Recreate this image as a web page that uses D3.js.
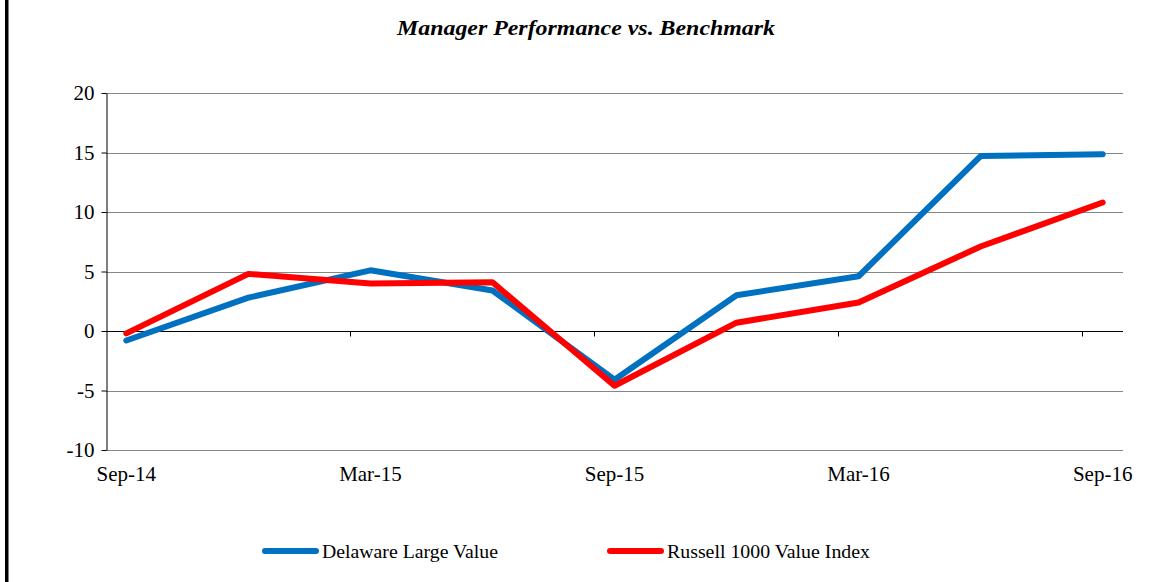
<!DOCTYPE html>
<html>
<head>
<meta charset="utf-8">
<script src="https://cdn.jsdelivr.net/npm/d3@7"></script>
<style>
  body { margin: 0; background: #fff; }
  svg { display: block; font-family: "Liberation Serif", "Times New Roman", serif; }
</style>
</head>
<body>
<svg id="chart"></svg>
<script>
var width = 1151;
var height = 582;

// quarter labels, month offset from Sep-14
var quarters = ["Sep-14", "Dec-14", "Mar-15", "Jun-15", "Sep-15", "Dec-15", "Mar-16", "Jun-16", "Sep-16"];
var monthIndex = [0, 3, 6, 9, 12, 15, 18, 21, 24];
var delaware = [-0.8, 2.8, 5.1, 3.4, -4.1, 3.0, 4.6, 14.7, 14.85];
var russell = [-0.2, 4.8, 4.0, 4.1, -4.6, 0.7, 2.4, 7.1, 10.8];
var xLabels = ["Sep-14", "Mar-15", "Sep-15", "Mar-16", "Sep-16"];
var xLabelMonths = [0, 6, 12, 18, 24];
var yTicks = [-10, -5, 0, 5, 10, 15, 20];

var plotLeft = 106, plotRight = 1123, plotTop = 93, plotBottom = 450;

var svg = d3.select("#chart")
    .attr("width", width)
    .attr("height", height);

// frame line on the left
svg.append("rect")
    .attr("x", 5).attr("y", 0)
    .attr("width", 3.5).attr("height", height)
    .attr("fill", "#000");

var xScale = d3.scaleLinear()
    .domain([-0.5, 24.5])
    .range([plotLeft, plotRight]);

var yScale = d3.scaleLinear()
    .domain([-10, 20])
    .range([plotBottom, plotTop]);

// gridlines
svg.append("g")
    .selectAll("line")
    .data(yTicks.filter(d => d !== 0))
    .enter()
    .append("line")
    .attr("x1", plotLeft).attr("x2", plotRight)
    .attr("y1", d => Math.round(yScale(d)) + 0.5).attr("y2", d => Math.round(yScale(d)) + 0.5)
    .attr("stroke", "#868686")
    .attr("stroke-width", 1);

// y axis
var yAxis = d3.axisLeft(yScale)
    .tickValues(yTicks)
    .tickFormat(d => String(d))
    .tickSize(5)
    .tickSizeOuter(0)
    .tickPadding(7);
var gy = svg.append("g")
    .attr("transform", "translate(" + (plotLeft + 0.5) + ",0)")
    .call(yAxis);
gy.select(".domain").attr("stroke", "#000");
gy.selectAll(".tick line").attr("stroke", "#000");
gy.selectAll("text")
    .attr("font-size", 21)
    .attr("font-family", "Liberation Serif")
    .attr("fill", "#000");

// zero line with tick marks between half-years
var y0 = Math.round(yScale(0)) + 0.5;
svg.append("line")
    .attr("x1", plotLeft).attr("x2", plotRight)
    .attr("y1", y0).attr("y2", y0)
    .attr("stroke", "#000")
    .attr("stroke-width", 1);
svg.append("g")
    .selectAll("line")
    .data([5.5, 11.5, 17.5, 23.5])
    .enter()
    .append("line")
    .attr("x1", d => Math.round(xScale(d)) + 0.5).attr("x2", d => Math.round(xScale(d)) + 0.5)
    .attr("y1", y0).attr("y2", y0 + 5)
    .attr("stroke", "#000");

// x labels along the bottom
svg.append("g")
    .selectAll("text")
    .data(xLabels)
    .enter()
    .append("text")
    .attr("x", (d, i) => xScale(xLabelMonths[i]))
    .attr("y", plotBottom + 31)
    .attr("text-anchor", "middle")
    .attr("font-size", 21)
    .text(d => d);

var line = d3.line()
    .x((d, i) => xScale(monthIndex[i]))
    .y(d => yScale(d));

svg.append("path")
    .datum(delaware)
    .attr("d", line)
    .attr("fill", "none")
    .attr("stroke", "#0070C0")
    .attr("stroke-width", 6)
    .attr("stroke-linecap", "round")
    .attr("stroke-linejoin", "round");

svg.append("path")
    .datum(russell)
    .attr("d", line)
    .attr("fill", "none")
    .attr("stroke", "#FF0000")
    .attr("stroke-width", 6)
    .attr("stroke-linecap", "round")
    .attr("stroke-linejoin", "round");

// title
svg.append("text")
    .attr("x", 586)
    .attr("y", 35)
    .attr("text-anchor", "middle")
    .attr("font-size", 22)
    .attr("font-weight", "bold")
    .attr("font-style", "italic")
    .attr("textLength", 378)
    .attr("lengthAdjust", "spacingAndGlyphs")
    .text("Manager Performance vs. Benchmark");

// legend
var legend = [
    { name: "Delaware Large Value", color: "#0070C0", x: 265, w: 176 },
    { name: "Russell 1000 Value Index", color: "#FF0000", x: 610, w: 203 }
];
var lg = svg.append("g")
    .selectAll("g")
    .data(legend)
    .enter()
    .append("g")
    .attr("transform", d => "translate(" + d.x + ",551)");
lg.append("line")
    .attr("x1", 0).attr("x2", 51)
    .attr("stroke", d => d.color)
    .attr("stroke-width", 6)
    .attr("stroke-linecap", "round");
lg.append("text")
    .attr("x", 57)
    .attr("y", 7)
    .attr("font-size", 19)
    .attr("textLength", d => d.w)
    .attr("lengthAdjust", "spacingAndGlyphs")
    .text(d => d.name);
</script>
</body>
</html>
